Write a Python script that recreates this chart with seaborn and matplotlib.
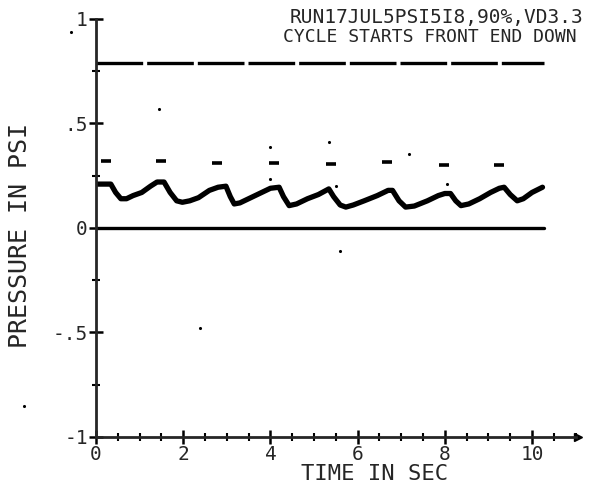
import matplotlib
matplotlib.use("Agg")
import matplotlib.pyplot as plt
import seaborn as sns
import pandas as pd
from matplotlib.ticker import MultipleLocator, FixedLocator

# ---- data ----
time_s = [0.0, 0.15, 0.34, 0.45, 0.57, 0.7, 0.85, 1.05, 1.25, 1.4, 1.56, 1.7, 1.85, 1.98,
          2.15, 2.35, 2.6, 2.8, 2.98, 3.08, 3.17, 3.3, 3.5, 3.75, 4.0, 4.2, 4.3, 4.43,
          4.6, 4.85, 5.1, 5.34, 5.45, 5.6, 5.73, 5.9, 6.15, 6.45, 6.7, 6.8, 6.95, 7.1,
          7.3, 7.6, 7.85, 8.0, 8.13, 8.25, 8.37, 8.55, 8.8, 9.05, 9.25, 9.36, 9.5, 9.66,
          9.8, 10.0, 10.24]
pressure = [0.21, 0.21, 0.21, 0.17, 0.14, 0.14, 0.155, 0.17, 0.2, 0.22, 0.22, 0.17, 0.13, 0.123,
            0.13, 0.145, 0.18, 0.195, 0.2, 0.15, 0.115, 0.12, 0.14, 0.165, 0.19, 0.195, 0.15, 0.107,
            0.115, 0.14, 0.16, 0.187, 0.15, 0.11, 0.1, 0.11, 0.13, 0.155, 0.18, 0.18, 0.13, 0.1,
            0.105, 0.13, 0.155, 0.165, 0.165, 0.13, 0.107, 0.115, 0.14, 0.17, 0.19, 0.195, 0.16, 0.13,
            0.14, 0.17, 0.195]

dash_t = [0.22, 1.48, 2.78, 4.08, 5.38, 6.68, 7.98, 9.24]
dash_p = [0.32, 0.32, 0.31, 0.31, 0.306, 0.314, 0.30, 0.30]

dot_t = [1.44, 4.0, 4.0, 5.34, 5.5, 7.18, 8.05, 5.6, 2.38, -1.65, -0.57]
dot_p = [0.57, 0.386, 0.234, 0.41, 0.2, 0.354, 0.21, -0.108, -0.478, -0.85, 0.94]

ref_line_t = [0.0, 10.27]
upper_level = [0.79, 0.79]
zero_level = [0.0, 0.0]

x_ticks = [0, 2, 4, 6, 8, 10]
x_labels = ["0", "2", "4", "6", "8", "10"]
y_ticks = [-1, -0.5, 0, 0.5, 1]
y_labels = ["-1", "-.5", "0", ".5", "1"]

title_lines = ["RUN17JUL5PSI5I8,90%,VD3.3", "CYCLE STARTS FRONT END DOWN"]
x_title = "TIME IN SEC"
y_title = "PRESSURE IN PSI"

# ---- plotting ----
sns.set_style("ticks")
plt.rcParams["font.family"] = ["DejaVu Sans Mono", "DejaVu Sans"]

fig = plt.figure(figsize=(5.91, 4.92), dpi=100)
ax = fig.add_axes([96 / 591, 55 / 492, 0.8337, 422.2 / 492])
ax.set_xlim(0, 11.3)
ax.set_ylim(-1, 1.02)

curve = pd.DataFrame({"t": time_s, "p": pressure})
sns.lineplot(data=curve, x="t", y="p", ax=ax, color="black", linewidth=3.8, sort=False)

ax.plot(ref_line_t, upper_level, color="black", linewidth=2.4, linestyle=(0, (14, 1.2)))
ax.plot(ref_line_t, zero_level, color="black", linewidth=2.4)

dashes = pd.DataFrame({"t": dash_t, "p": dash_p})
sns.scatterplot(data=dashes, x="t", y="p", ax=ax, marker="_", s=60, color="black", linewidth=2.6)
dots = pd.DataFrame({"t": dot_t, "p": dot_p})
sns.scatterplot(data=dots, x="t", y="p", ax=ax, marker="o", s=5, color="black", linewidth=0, clip_on=False)

# axes styling
for s in ["top", "right"]:
    ax.spines[s].set_visible(False)
ax.spines["left"].set_bounds(-1, 1)
ax.spines["bottom"].set_bounds(0, 11.0)
ax.spines["left"].set_linewidth(2)
ax.spines["bottom"].set_linewidth(2)
ax.plot([11.05], [-1], marker=">", markersize=6, color="black", clip_on=False)

ax.xaxis.set_major_locator(FixedLocator(x_ticks))
ax.xaxis.set_minor_locator(MultipleLocator(0.5))
ax.yaxis.set_major_locator(FixedLocator(y_ticks))
ax.yaxis.set_minor_locator(MultipleLocator(0.25))
ax.set_xticklabels(x_labels)
ax.set_yticklabels(y_labels)
ax.tick_params(which="major", direction="inout", length=10, width=1.8, labelsize=14, pad=1, color="black")
ax.tick_params(which="minor", direction="inout", length=6, width=1.5, color="black")

ax.set_xlabel(x_title, fontsize=16)
ax.xaxis.set_label_coords((375 - 96) / 492.7, -0.063)
ax.set_ylabel(y_title, fontsize=18)
ax.yaxis.set_label_coords(-(96 - 32) / 492.7, (437 - 235) / 422.2)

fig.text(290 / 591, 1 - 17 / 492, title_lines[0], fontsize=14, ha="left", va="center")
fig.text(283 / 591, 1 - 37 / 492, title_lines[1], fontsize=13, ha="left", va="center")

fig.savefig("out.png", dpi=100)
